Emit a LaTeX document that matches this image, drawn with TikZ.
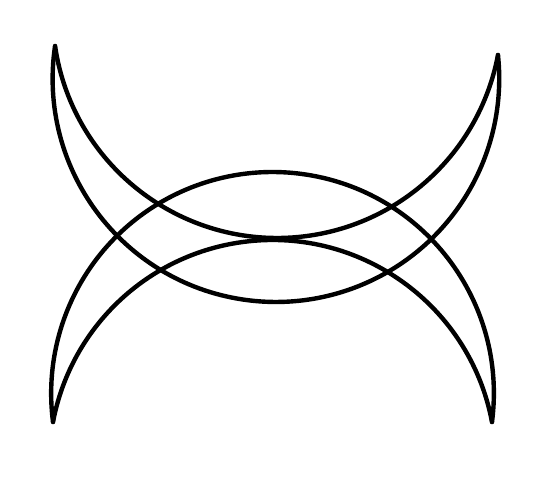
\documentclass[tikz,border=0pt]{standalone}
\begin{document}
\begin{tikzpicture}[x=1pt,y=1pt,
  crescentline/.style={line width=4.4pt,line cap=round,line join=round,black}]
\useasboundingbox (0,0) rectangle (541,496);
\fill[white] (0,0) rectangle (541,496);
% circle centres (upper crescent)
\coordinate (uo) at (275.93,417.32);
\coordinate (ui) at (277.26,482.62);
% circle centres (lower crescent)
\coordinate (lo) at (272.5,102.64);
\coordinate (li) at (272.5,32.64);
% upper crescent: outer and inner arcs
\draw[crescentline] (uo) ++(171.6:223.3) arc[start angle=171.6,end angle=366.09,radius=223.3];
\draw[crescentline] (ui) ++(188.35:224.6) arc[start angle=188.35,end angle=349.32,radius=224.6];
% lower crescent: outer and inner arcs
\draw[crescentline] (lo) ++(-7.43:221.36) arc[start angle=-7.43,end angle=187.43,radius=221.36];
\draw[crescentline] (li) ++(10.67:223.36) arc[start angle=10.67,end angle=169.33,radius=223.36];
\end{tikzpicture}
\end{document}
